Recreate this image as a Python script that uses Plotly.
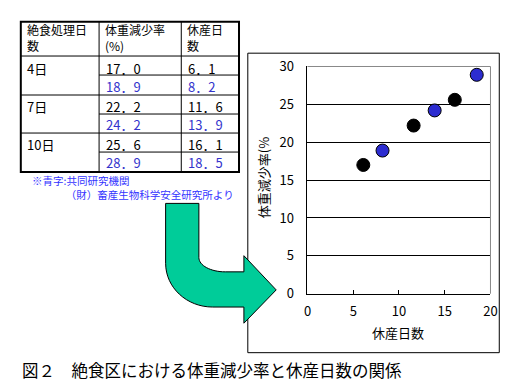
import plotly.graph_objects as go

W, H = 511, 386

# ---- data ----
days = ["4日", "7日", "10日"]
rate_black = [17.0, 22.2, 25.6]
rate_blue = [18.9, 24.2, 28.9]
idle_black = [6.1, 11.6, 16.1]
idle_blue = [8.2, 13.9, 18.5]
header = ["絶食処理日<br>数", "体重減少率<br>(%)", "休産日<br>数"]
note = "※青字:共同研究機関<br>　　　\u00a0（財）畜産生物科学安全研究所より"
caption = "図２　絶食区における体重減少率と休産日数の関係"
x_title = "休産日数"
y_title = "体重減少率(%"
x_ticks = [0, 5, 10, 15, 20]
y_ticks = [0, 5, 10, 15, 20, 25, 30]

BLUE = "#3333CC"
GREEN = "#00CC99"
JP = "Noto Sans CJK JP"


def px(x):
    return x / W


def py(y):
    return 1 - y / H


def fw(v):
    return f"{v:.1f}".replace(".", "．")


fig = go.Figure()
fig.add_trace(go.Scatter(x=idle_black, y=rate_black, mode="markers",
                         marker=dict(size=13, color="black", line=dict(color="black", width=1)),
                         cliponaxis=False, showlegend=False))
fig.add_trace(go.Scatter(x=idle_blue, y=rate_blue, mode="markers",
                         marker=dict(size=13, color="#2C2CD0", line=dict(color="black", width=1)),
                         cliponaxis=False, showlegend=False))

shapes = []
annotations = []

# chart frame
shapes.append(dict(type="rect", xref="paper", yref="paper", x0=px(241), x1=px(498), y0=py(352), y1=py(37),
                   line=dict(color="black", width=1), layer="below"))
# gray top/right border of plot area
shapes.append(dict(type="line", xref="x domain", yref="y domain", x0=0, x1=1, y0=1, y1=1,
                   line=dict(color="#888888", width=1), layer="above"))
shapes.append(dict(type="line", xref="x domain", yref="y domain", x0=1, x1=1, y0=0, y1=1,
                   line=dict(color="#888888", width=1), layer="above"))

# arrow
k = 0.5523


def P(x, y):
    return f"{px(x):.5f},{py(y):.5f}"


path = (f"M{P(157,195)} L{P(191,195)} L{P(191,252)} "
        f"C{P(191,252+k*15)} {P(218-k*27,267)} {P(218,267)} "
        f"L{P(237,267)} L{P(237,250)} L{P(270,286)} L{P(237,321)} L{P(237,304)} L{P(205,304)} "
        f"C{P(205-k*48,304)} {P(157,258+k*46)} {P(157,258)} Z")
shapes.append(dict(type="path", xref="paper", yref="paper", path=path,
                   fillcolor=GREEN, line=dict(color="black", width=1), layer="above"))

# table
TL, TR, TT, TB = 9, 232, 4, 162
C1, C2 = 89, 173
for yv in [40, 81, 121]:
    shapes.append(dict(type="line", xref="paper", yref="paper", x0=px(TL), x1=px(TR), y0=py(yv), y1=py(yv),
                       line=dict(color="black", width=1)))
for yv in [60, 101, 141]:
    shapes.append(dict(type="line", xref="paper", yref="paper", x0=px(C1), x1=px(TR), y0=py(yv), y1=py(yv),
                       line=dict(color="black", width=1)))
for xv in [C1, C2]:
    shapes.append(dict(type="line", xref="paper", yref="paper", x0=px(xv), x1=px(xv), y0=py(TB), y1=py(TT),
                       line=dict(color="black", width=1)))
shapes.append(dict(type="rect", xref="paper", yref="paper", x0=px(TL), x1=px(TR), y0=py(TB), y1=py(TT),
                   line=dict(color="black", width=2)))


def txt(x, y, s, color="black", size=13, anchor="left"):
    annotations.append(dict(xref="paper", yref="paper", x=px(x), y=py(y), text=s, showarrow=False,
                            xanchor=anchor, yanchor="middle", align="left",
                            font=dict(family=JP, size=size, color=color)))


for hx, h in zip([13, 93, 177], header):
    txt(hx, 21, h, size=12)
rows_y = [53, 93, 133]
for i, d in enumerate(days):
    y0 = rows_y[i]
    txt(13, y0, d)
    txt(94, y0, fw(rate_black[i]))
    txt(178, y0, fw(idle_black[i]))
    txt(94, y0 + 19, fw(rate_blue[i]), BLUE)
    txt(178, y0 + 19, fw(idle_blue[i]), BLUE)

txt(18, 178, note, "#3333FF", 10.5)

# axis titles and caption
annotations.append(dict(xref="paper", yref="paper", x=px(257), y=py(168), text=y_title, showarrow=False,
                        textangle=-90, xanchor="center", yanchor="middle",
                        font=dict(family=JP, size=13, color="black")))
txt(395, 331, x_title, anchor="center")
txt(8, 370, caption, size=16.5)

fig.update_layout(
    width=W, height=H, margin=dict(l=0, r=0, t=0, b=0),
    paper_bgcolor="white", plot_bgcolor="white",
    shapes=shapes, annotations=annotations,
    xaxis=dict(domain=[px(302), px(489)], range=[0, 20], tickvals=x_ticks, showgrid=False,
               zeroline=False, showline=True, linecolor="black", linewidth=1,
               ticks="inside", ticklen=4, tickcolor="black",
               tickfont=dict(family=JP, size=13, color="black"), ticklabelstandoff=6),
    yaxis=dict(domain=[py(290), py(51)], range=[0, 30], tickvals=y_ticks, showgrid=True,
               gridcolor="black", gridwidth=1, zeroline=False, showline=True, linecolor="black",
               linewidth=1, ticks="", tickfont=dict(family=JP, size=13, color="black"),
               ticklabelstandoff=10),
)

fig.write_html("out.html")
